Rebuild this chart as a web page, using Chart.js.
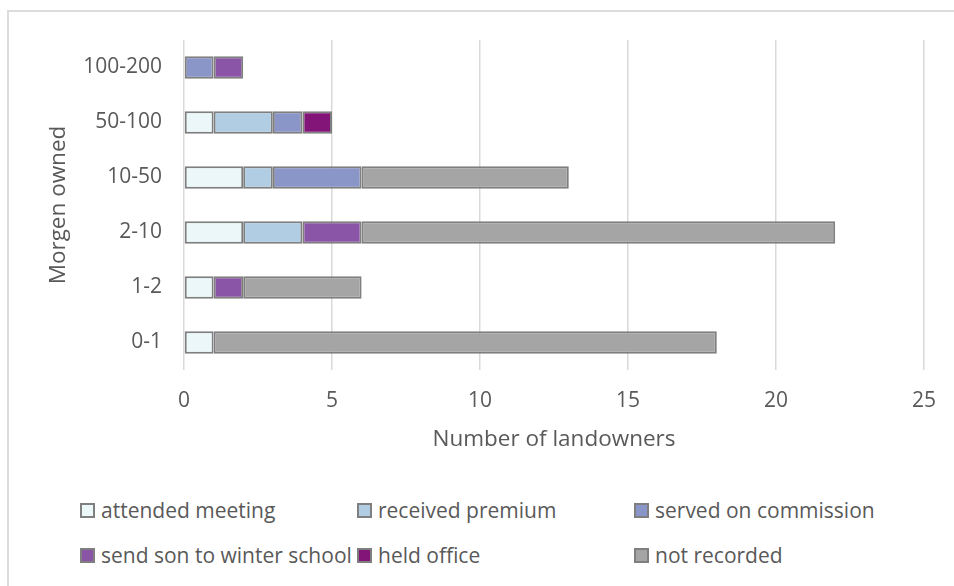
<!DOCTYPE html>
<html>
<head>
<meta charset="utf-8">
<script src="https://cdn.jsdelivr.net/npm/chart.js@4"></script>
<style>
    html, body { margin: 0; padding: 0; background: #fff; }
    body { width: 954px; height: 586px; position: relative; overflow: hidden; font-family: 'Open Sans', sans-serif; }
    #frame { position: absolute; left: 7px; top: 10px; width: 980px; height: 620px; border: 2px solid #DCDCDC; box-sizing: border-box; }
    #wrap { position: absolute; left: 0; top: 0; width: 954px; height: 470px; }
    .legend-item { position: absolute; display: flex; align-items: center; height: 30px; font-size: 21px; color: #595959; white-space: nowrap; }
    .legend-box { width: 15px; height: 15px; box-sizing: border-box; border: 2px solid #7F7F7F; margin-right: 6px; }
</style>
</head>
<body>
<div id="frame"></div>
<div id="wrap"><canvas id="landownersChart" width="954" height="470"></canvas></div>
<div id="legend"></div>
<script>
const categories = ['0-1', '1-2', '2-10', '10-50', '50-100', '100-200'];

const attendedMeeting = [1, 1, 2, 2, 1, 0];
const receivedPremium = [0, 0, 2, 1, 2, 0];
const servedOnCommission = [0, 0, 0, 3, 1, 1];
const sendSonToWinterSchool = [0, 1, 2, 0, 0, 1];
const heldOffice = [0, 0, 0, 0, 1, 0];
const notRecorded = [17, 4, 16, 7, 0, 0];

const seriesNames = ['attended meeting', 'received premium', 'served on commission', 'send son to winter school', 'held office', 'not recorded'];
const seriesValues = [attendedMeeting, receivedPremium, servedOnCommission, sendSonToWinterSchool, heldOffice, notRecorded];
const seriesColors = ['#EBF7F9', '#B0CDE3', '#8A95C8', '#8A55A7', '#831478', '#A5A5A5'];

document.addEventListener('DOMContentLoaded', () => {

    const ctx = document.getElementById('landownersChart').getContext('2d');
    new Chart(ctx, {
        type: 'bar',
        data: {
            labels: categories,
            datasets: seriesNames.map((name, i) => ({
                label: name,
                data: seriesValues[i],
                backgroundColor: seriesColors[i],
                borderColor: '#7F7F7F',
                borderWidth: 2,
                borderSkipped: false,
                barPercentage: 0.41,
                categoryPercentage: 1
            }))
        },
        options: {
            indexAxis: 'y',
            responsive: false,
            animation: false,
            layout: {
                padding: { top: 40, right: 29, left: 45, bottom: 17 }
            },
            plugins: {
                legend: { display: false },
                tooltip: { enabled: false }
            },
            scales: {
                x: {
                    stacked: true,
                    min: 0,
                    max: 25,
                    ticks: {
                        stepSize: 5,
                        padding: 18,
                        color: '#595959',
                        font: { family: 'Open Sans', size: 21 }
                    },
                    grid: {
                        color: '#D9D9D9',
                        lineWidth: 1.5,
                        drawTicks: false
                    },
                    border: { display: false },
                    title: {
                        display: true,
                        text: 'Number of landowners',
                        color: '#595959',
                        font: { family: 'Open Sans', size: 22.5 },
                        padding: 0
                    },
                    afterFit: (scale) => { scale.height = 83; }
                },
                y: {
                    stacked: true,
                    reverse: true,
                    ticks: {
                        padding: 22,
                        color: '#595959',
                        font: { family: 'Open Sans', size: 21 }
                    },
                    grid: { display: false, drawTicks: false },
                    border: { display: false },
                    title: {
                        display: true,
                        text: 'Morgen owned',
                        color: '#595959',
                        font: { family: 'Open Sans', size: 22.5 },
                        padding: 0
                    },
                    afterFit: (scale) => { scale.width = 139; }
                }
            }
        }
    });

    // legend laid out in a 3 column grid like the original
    const legend = document.getElementById('legend');
    seriesNames.forEach((name, i) => {
        const item = document.createElement('div');
        item.className = 'legend-item';
        item.style.left = (80 + (i % 3) * 277) + 'px';
        item.style.top = (495 + Math.floor(i / 3) * 45) + 'px';
        const box = document.createElement('span');
        box.className = 'legend-box';
        box.style.background = seriesColors[i];
        const label = document.createElement('span');
        label.textContent = name;
        item.appendChild(box);
        item.appendChild(label);
        legend.appendChild(item);
    });

});
</script>
</body>
</html>
